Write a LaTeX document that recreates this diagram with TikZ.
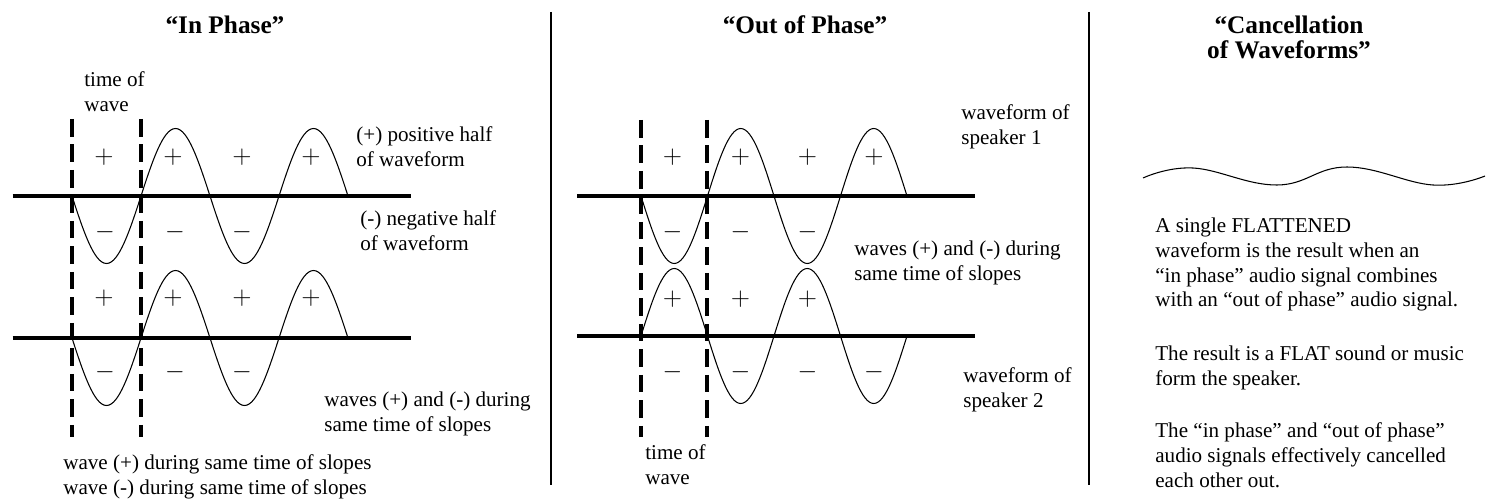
\documentclass[tikz,border=0pt]{standalone}
\usepackage{fontspec}
\setmainfont{Liberation Serif}
\usepackage{tikz}

\begin{document}
\begin{tikzpicture}[
  title/.style={font=\fontsize{14.4}{14.5}\selectfont\bfseries,
                align=center,inner sep=0pt},
  note/.style={font=\fontsize{12}{14.2}\selectfont,
               align=left,anchor=west,inner sep=0pt},
  sign/.style={font=\fontsize{14}{14}\selectfont,inner sep=0pt},
  axis/.style={line width=2pt},
  divider/.style={line width=1.6pt},
  slot/.style={line width=1.8pt,dash pattern=on 10pt off 4.5pt},
  wave/.style={line width=0.6pt},
]
\useasboundingbox (0,0) rectangle (29.84,9.98);

%% Column 1: in phase
\node[title] (tin) at (4.50,9.48) {“In Phase”};

% Axes
\draw[axis] (0.25,6.06) -- (8.22,6.06);
\draw[axis] (0.25,3.22) -- (8.22,3.22);

% Time of wave
\draw[slot] (1.44,7.60) -- (1.44,1.24);
\draw[slot] (2.82,7.60) -- (2.82,1.24);

% Both waves start downwards
\draw[wave] (1.44,6.06) \foreach \s in {-1,1,-1,1} {
  sin ++(0.69,1.35*\s) cos ++(0.69,-1.35*\s) };
\draw[wave] (1.44,3.22) \foreach \s in {-1,1,-1,1} {
  sin ++(0.69,1.35*\s) cos ++(0.69,-1.35*\s) };

% Signs
\foreach \x [count=\i] in {2.08,3.46,4.84,6.22} {
  \node[sign] (lpa\i) at (\x,6.84) {$+$};
  \node[sign] (lpb\i) at (\x,4.02) {$+$};
}
\foreach \x [count=\i] in {2.10,3.50,4.84} {
  \node[sign] (lma\i) at (\x,5.34) {$-$};
  \node[sign] (lmb\i) at (\x,2.54) {$-$};
}

% Labels
\node[note] (ltime) at (1.68,8.15) {time of\\wave};
\node[note] (lpos)  at (7.12,7.05) {(+) positive half\\of waveform};
\node[note] (lneg)  at (7.20,5.36) {(-) negative half\\of waveform};
\node[note] (lboth) at (6.48,1.70) {waves (+) and (-) during\\same time of slopes};
\node[note] (lsame) at (1.26,0.44) {wave (+) during same time of slopes\\
                                     wave (-) during same time of slopes};

\draw[divider] (11.02,9.74) -- (11.02,0.28);

%% Column 2: out of phase
\node[title] (tout) at (16.10,9.48) {“Out of Phase”};

\draw[axis] (11.54,6.06) -- (19.50,6.06);
\draw[axis] (11.54,3.26) -- (19.50,3.26);

\draw[slot] (12.82,7.58) -- (12.82,1.24);
\draw[slot] (14.14,7.58) -- (14.14,1.24);

% Speaker 1 starts downwards, speaker 2 upwards
\draw[wave] (12.82,6.06) \foreach \s in {-1,1,-1,1} {
  sin ++(0.665,1.35*\s) cos ++(0.665,-1.35*\s) };
\draw[wave] (12.82,3.26) \foreach \s in {1,-1,1,-1} {
  sin ++(0.665,1.35*\s) cos ++(0.665,-1.35*\s) };

\foreach \x [count=\i] in {13.45,14.81,16.15,17.48} {
  \node[sign] (mpa\i) at (\x,6.84) {$+$};
  \node[sign] (mmb\i) at (\x,2.54) {$-$};
}
\foreach \x [count=\i] in {13.45,14.81,16.15} {
  \node[sign] (mma\i) at (\x,5.34) {$-$};
  \node[sign] (mpb\i) at (\x,4.00) {$+$};
}

\node[note] (mspk1) at (19.22,7.45) {waveform of\\speaker 1};
\node[note] (mboth) at (17.08,4.73) {waves (+) and (-) during\\same time of slopes};
\node[note] (mspk2) at (19.26,2.18) {waveform of\\speaker 2};
\node[note] (mtime) at (12.90,0.68) {time of\\wave};

\draw[divider] (21.78,9.74) -- (21.78,0.28);

%% Column 3: cancellation
\node[title] (tcan) at (25.78,9.23) {“Cancellation\\of Waveforms”};

% Flattened waveform
\draw[wave] plot[smooth,tension=0.7] coordinates {
  (22.86,6.42) (23.86,6.62) (25.54,6.28) (26.94,6.64) (28.66,6.28) (29.70,6.46)};

\node[note] (cpar1) at (23.10,4.69) {A single FLATTENED\\
  waveform is the result when an\\
  “in phase” audio signal combines\\
  with an “out of phase” audio signal.};
\node[note] (cpar2) at (23.10,2.63) {The result is a FLAT sound or music\\
  form the speaker.};
\node[note] (cpar3) at (23.10,0.88) {The “in phase” and “out of phase”\\
  audio signals effectively cancelled\\
  each other out.};

\end{tikzpicture}
\end{document}
